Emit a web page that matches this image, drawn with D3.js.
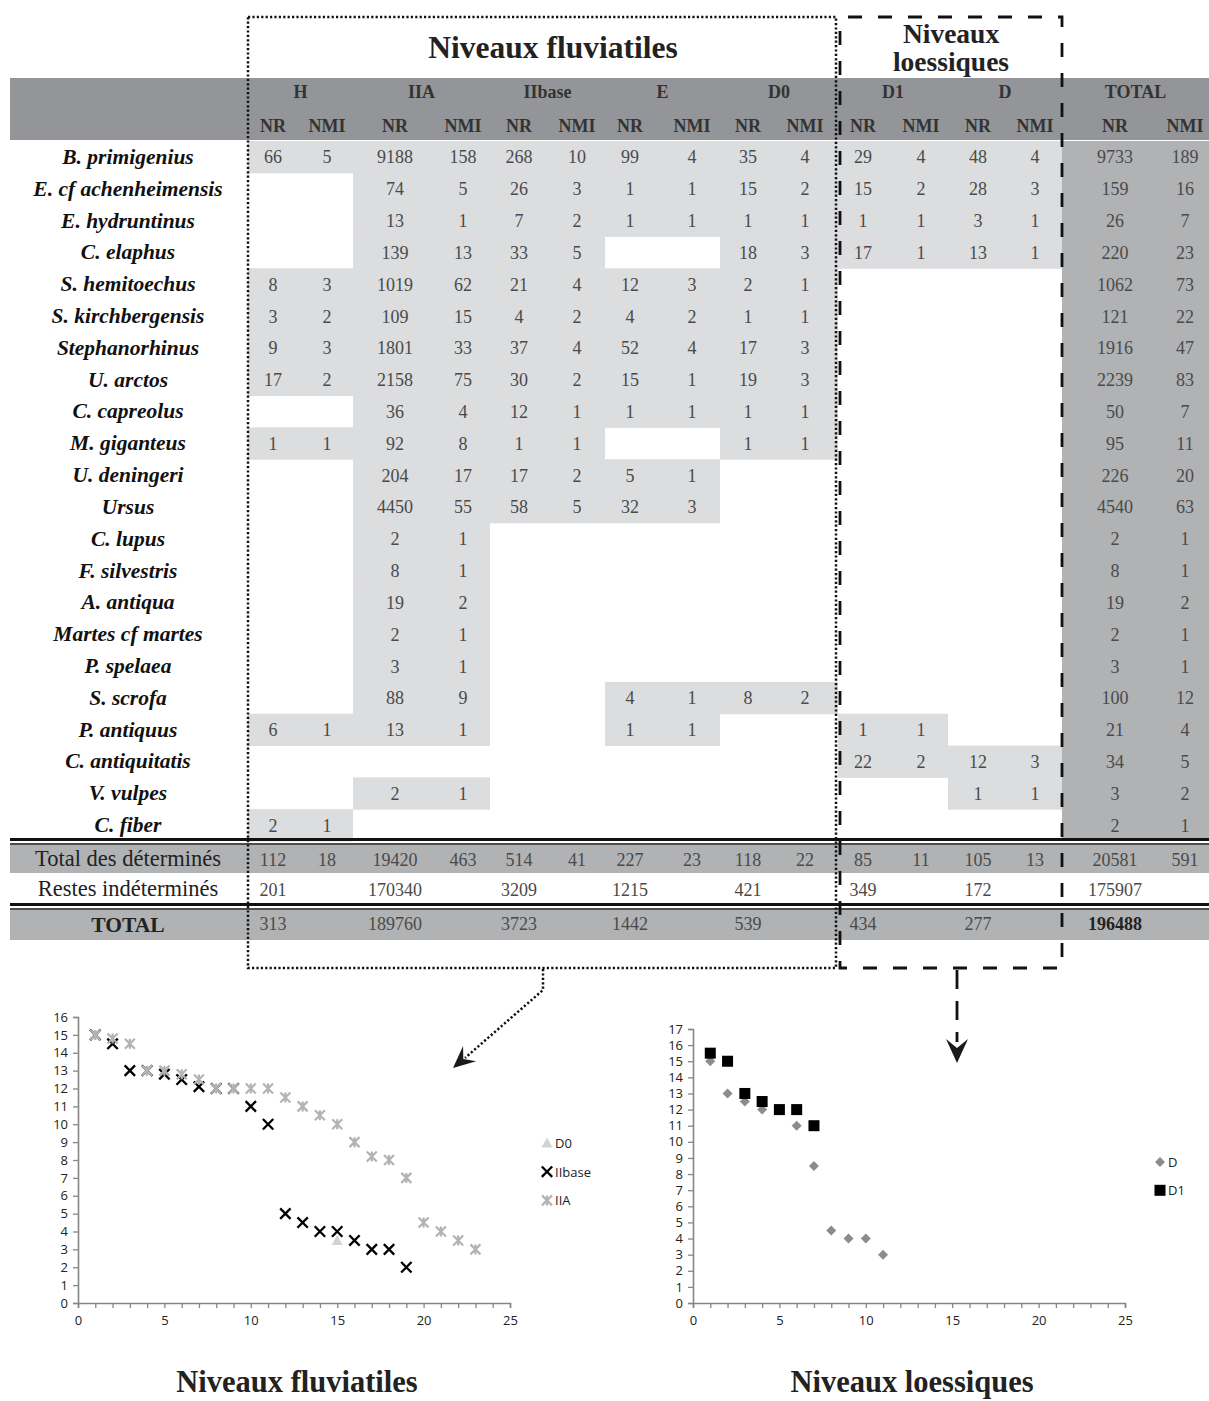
<!DOCTYPE html>
<html><head><meta charset="utf-8">
<script src="https://cdn.jsdelivr.net/npm/d3@7"></script>
<style>body{margin:0;background:#fff} svg{display:block}</style>
</head><body><svg id="c" width="1209" height="1401"></svg>
<script>
// ---------------- DATA ----------------
const species = ["B. primigenius","E. cf achenheimensis","E. hydruntinus","C. elaphus","S. hemitoechus","S. kirchbergensis","Stephanorhinus","U. arctos","C. capreolus","M. giganteus","U. deningeri","Ursus","C. lupus","F. silvestris","A. antiqua","Martes cf martes","P. spelaea","S. scrofa","P. antiquus","C. antiquitatis","V. vulpes","C. fiber"];
const levels = ["H","IIA","IIbase","E","D0","D1","D","TOTAL"];
const subHeads = ["NR","NMI"];
const lvH = [[66,5],null,null,null,[8,3],[3,2],[9,3],[17,2],null,[1,1],null,null,null,null,null,null,null,null,[6,1],null,null,[2,1]];
const lvIIA = [[9188,158],[74,5],[13,1],[139,13],[1019,62],[109,15],[1801,33],[2158,75],[36,4],[92,8],[204,17],[4450,55],[2,1],[8,1],[19,2],[2,1],[3,1],[88,9],[13,1],null,[2,1],null];
const lvIIbase = [[268,10],[26,3],[7,2],[33,5],[21,4],[4,2],[37,4],[30,2],[12,1],[1,1],[17,2],[58,5],null,null,null,null,null,null,null,null,null,null];
const lvE = [[99,4],[1,1],[1,1],null,[12,3],[4,2],[52,4],[15,1],[1,1],null,[5,1],[32,3],null,null,null,null,null,[4,1],[1,1],null,null,null];
const lvD0 = [[35,4],[15,2],[1,1],[18,3],[2,1],[1,1],[17,3],[19,3],[1,1],[1,1],null,null,null,null,null,null,null,[8,2],null,null,null,null];
const lvD1 = [[29,4],[15,2],[1,1],[17,1],null,null,null,null,null,null,null,null,null,null,null,null,null,null,[1,1],[22,2],null,null];
const lvD = [[48,4],[28,3],[3,1],[13,1],null,null,null,null,null,null,null,null,null,null,null,null,null,null,null,[12,3],[1,1],null];
const lvTOTAL = [[9733,189],[159,16],[26,7],[220,23],[1062,73],[121,22],[1916,47],[2239,83],[50,7],[95,11],[226,20],[4540,63],[2,1],[8,1],[19,2],[2,1],[3,1],[100,12],[21,4],[34,5],[3,2],[2,1]];
const detNR  = [112,19420,514,227,118,85,105,20581];
const detNMI = [18,463,41,23,22,11,13,591];
const indet  = [201,170340,3209,1215,421,349,172,175907];
const grandTotal = [313,189760,3723,1442,539,434,277,196488];
const summaryLabels = ["Total des déterminés","Restes indéterminés","TOTAL"];

// scatter data
const fluvD0 = [[15,3.5]];
const fluvIIbase = [[1,15],[2,14.5],[3,13],[4,13],[5,12.8],[6,12.5],[7,12.1],[8,12],[9,12],[10,11],[11,10],[12,5],[13,4.5],[14,4],[15,4],[16,3.5],[17,3],[18,3],[19,2]];
const fluvIIA = [[1,15],[2,14.8],[3,14.5],[4,13],[5,13],[6,12.8],[7,12.5],[8,12],[9,12],[10,12],[11,12],[12,11.5],[13,11],[14,10.5],[15,10],[16,9],[17,8.2],[18,8],[19,7],[20,4.5],[21,4],[22,3.5],[23,3]];
const loessD = [[1,15],[2,13],[3,12.5],[4,12],[6,11],[7,8.5],[8,4.5],[9,4],[10,4],[11,3]];
const loessD1 = [[1,15.5],[2,15],[3,13],[4,12.5],[5,12],[6,12],[7,11]];
const xTicks = [0,1,2,3,4,5,6,7,8,9,10,11,12,13,14,15,16,17,18,19,20,21,22,23,24,25];
const xLabelTicks = [0,5,10,15,20,25];
const fluvYTicks = [0,1,2,3,4,5,6,7,8,9,10,11,12,13,14,15,16];
const loessYTicks = [0,1,2,3,4,5,6,7,8,9,10,11,12,13,14,15,16,17];

// ---------------- LAYOUT ----------------
const svg = d3.select("#c");
const SERIF = "'Liberation Serif','Times New Roman',serif";
const SANS = "'Open Sans','Noto Sans',sans-serif";
const levelData = [lvH,lvIIA,lvIIbase,lvE,lvD0,lvD1,lvD,lvTOTAL];
const groupEdges = [248,353,490,605,720,838,948,1062,1209];
const colCenters = [[273,327],[395,463],[519,577],[630,692],[748,805],[863,921],[978,1035],[1115,1185]];
const labelX = 128;
const C_HEAD = "#939598", C_LIGHT = "#dcdddf", C_MID = "#b1b2b4";
const NUMC = "#4a4a4a";

const y = d3.scaleBand().domain(species).range([141, 841]);

// header band
svg.append("rect").attr("x",10).attr("y",78).attr("width",1199).attr("height",62).attr("fill",C_HEAD);
// TOTAL column background
svg.append("rect").attr("x",groupEdges[7]).attr("y",141).attr("width",groupEdges[8]-groupEdges[7]).attr("height",700).attr("fill",C_MID);

// light cells
levels.slice(0,7).forEach((lv,li)=>{
  levelData[li].forEach((v,si)=>{
    if(!v) return;
    svg.append("rect").attr("x",groupEdges[li]).attr("y",y(species[si]))
      .attr("width",groupEdges[li+1]-groupEdges[li]).attr("height",y.bandwidth()+0.5).attr("fill",C_LIGHT);
  });
});

// header texts
levels.forEach((lv,li)=>{
  const cx=(groupEdges[li]+groupEdges[li+1])/2;
  svg.append("text").attr("x",cx).attr("y",98).attr("text-anchor","middle")
    .attr("font-family",SERIF).attr("font-weight","bold").attr("font-size",18).attr("fill","#333").text(lv);
  subHeads.forEach((s,k)=>{
    svg.append("text").attr("x",colCenters[li][k]).attr("y",132).attr("text-anchor","middle")
      .attr("font-family",SERIF).attr("font-weight","bold").attr("font-size",18).attr("fill","#333").text(s);
  });
});

// species labels
species.forEach(s=>{
  svg.append("text").attr("x",labelX).attr("y",y(s)+y.bandwidth()/2+7).attr("text-anchor","middle")
    .attr("font-family",SERIF).attr("font-weight","bold").attr("font-style","italic").attr("font-size",21.5).attr("fill","#111").text(s);
});
// values
levelData.forEach((arr,li)=>{
  arr.forEach((v,si)=>{
    if(!v) return;
    v.forEach((n,k)=>{
      svg.append("text").attr("x",colCenters[li][k]).attr("y",y(species[si])+y.bandwidth()/2+6.5)
        .attr("text-anchor","middle").attr("font-family",SERIF).attr("font-size",18).attr("fill",NUMC).text(n);
    });
  });
});

// summary rows
const sumRows = [{y0:845,h:28,fill:C_MID},{y0:873,h:32,fill:"none"},{y0:910,h:30,fill:C_MID}];
sumRows.forEach((r,i)=>{
  if(r.fill!=="none") svg.append("rect").attr("x",10).attr("y",r.y0).attr("width",1199).attr("height",r.h).attr("fill",r.fill);
  svg.append("text").attr("x",labelX).attr("y",r.y0+r.h/2+7).attr("text-anchor","middle")
    .attr("font-family",SERIF).attr("font-size",i===2?21.5:22.5).attr("font-weight",i===2?"bold":"normal").attr("fill","#222").text(summaryLabels[i]);
});
levels.forEach((lv,li)=>{
  const tc = (txt,k,yy,bold)=>svg.append("text").attr("x",colCenters[li][k]).attr("y",yy).attr("text-anchor","middle")
    .attr("font-family",SERIF).attr("font-size",18).attr("font-weight",bold?"bold":"normal").attr("fill",bold?"#222":NUMC).text(txt);
  tc(detNR[li],0,865.5,false); tc(detNMI[li],1,865.5,false);
  tc(indet[li],0,896,false);
  tc(grandTotal[li],0,930,lv==="TOTAL");
});

// double lines
[[839.5,3],[844,1.5],[904.5,3],[909,1.5]].forEach(([yy,w])=>{
  svg.append("line").attr("x1",10).attr("x2",1209).attr("y1",yy).attr("y2",yy).attr("stroke","#111").attr("stroke-width",w);
});

// titles
svg.append("text").attr("x",553).attr("y",58).attr("text-anchor","middle").attr("font-family",SERIF)
  .attr("font-weight","bold").attr("font-size",31.5).attr("fill","#222").text("Niveaux fluviatiles");
svg.append("text").attr("x",951).attr("y",43).attr("text-anchor","middle").attr("font-family",SERIF)
  .attr("font-weight","bold").attr("font-size",27.5).attr("fill","#222").text("Niveaux");
svg.append("text").attr("x",951).attr("y",71).attr("text-anchor","middle").attr("font-family",SERIF)
  .attr("font-weight","bold").attr("font-size",27.5).attr("fill","#222").text("loessiques");

// dotted box
svg.append("path").attr("d","M248,17 L836,17 L836,968 L248,968 Z").attr("fill","none")
  .attr("stroke","#111").attr("stroke-width",2.5).attr("stroke-dasharray","2.2,2.2");
// dashed box
svg.append("path").attr("d","M848,17 L1062,17 L1062,968 L840,968 L840,17").attr("fill","none")
  .attr("stroke","#111").attr("stroke-width",2.8).attr("stroke-dasharray","14,16");

function arrowHead(tx,ty,ang,L,W){
  const pts=[[0,0],[-L,-W/2],[-L*0.62,0],[-L,W/2]];
  const c=Math.cos(ang), s=Math.sin(ang);
  return "M"+pts.map(([px,py])=>[tx+px*c-py*s, ty+px*s+py*c].join(",")).join("L")+"Z";
}
// dotted arrow
svg.append("path").attr("d","M543,969 L543,990 L465,1058").attr("fill","none")
  .attr("stroke","#111").attr("stroke-width",2.5).attr("stroke-dasharray","2.2,2.2");
svg.append("path").attr("d",arrowHead(453,1068,Math.atan2(78,-90),22,20)).attr("fill","#1a1a1a");
// dashed arrow
svg.append("path").attr("d","M957,970 L957,1042").attr("fill","none")
  .attr("stroke","#111").attr("stroke-width",2.8).attr("stroke-dasharray","19,12");
svg.append("path").attr("d",arrowHead(957,1063,Math.PI/2,24,22)).attr("fill","#1a1a1a");

// ---------------- SCATTER CHARTS ----------------
function drawAxes(x,yS,yTicks){
  const ax = svg.append("g").attr("transform",`translate(0,${yS(0)})`)
    .call(d3.axisBottom(x).tickValues(xTicks).tickSize(5).tickPadding(8)
      .tickFormat(d=>xLabelTicks.includes(d)?d:""));
  const ay = svg.append("g").attr("transform",`translate(${x(0)},0)`)
    .call(d3.axisLeft(yS).tickValues(yTicks).tickSize(5).tickPadding(5));
  [ax,ay].forEach(g=>{
    g.select(".domain").attr("stroke","#868686").attr("stroke-width",1.6);
    g.selectAll(".tick line").attr("stroke","#868686").attr("stroke-width",1.3);
    g.selectAll(".tick text").attr("font-family",SANS).attr("font-size",13).attr("fill","#222");
  });
}
const sym = {
  star:(g,cx,cy,col)=>{const r=5;g.append("path").attr("d",`M${cx-r},${cy-r}L${cx+r},${cy+r}M${cx-r},${cy+r}L${cx+r},${cy-r}M${cx},${cy-r}L${cx},${cy+r}`).attr("stroke",col).attr("stroke-width",2.2).attr("fill","none");},
  cross:(g,cx,cy,col)=>{const r=5.2;g.append("path").attr("d",`M${cx-r},${cy-r}L${cx+r},${cy+r}M${cx-r},${cy+r}L${cx+r},${cy-r}`).attr("stroke",col).attr("stroke-width",2.3).attr("fill","none");},
  tri:(g,cx,cy,col)=>{g.append("path").attr("d",`M${cx},${cy-5.5}L${cx+5.5},${cy+4.5}L${cx-5.5},${cy+4.5}Z`).attr("fill",col);},
  diamond:(g,cx,cy,col)=>{const r=5;g.append("path").attr("d",`M${cx},${cy-r}L${cx+r},${cy}L${cx},${cy+r}L${cx-r},${cy}Z`).attr("fill",col);},
  square:(g,cx,cy,col)=>{const r=5.5;g.append("rect").attr("x",cx-r).attr("y",cy-r).attr("width",2*r).attr("height",2*r).attr("fill",col);}
};
function drawSeries(x,yS,data,kind,col){
  const g=svg.append("g");
  data.forEach(([a,b])=>sym[kind](g,x(a),yS(b),col));
}
function legend(items,lx,ly0,dy){
  items.forEach((it,i)=>{
    const g=svg.append("g");
    sym[it.kind](g,lx,ly0+i*dy,it.col);
    svg.append("text").attr("x",lx+8).attr("y",ly0+i*dy+5).attr("font-family",SANS).attr("font-size",13).attr("fill","#222").text(it.name);
  });
}

// left chart
const xL = d3.scaleLinear().domain([0,25]).range([78,510]);
const yL = d3.scaleLinear().domain([0,16]).range([1303,1017]);
drawAxes(xL,yL,fluvYTicks);
drawSeries(xL,yL,fluvD0,"tri","#d2d3d5");
drawSeries(xL,yL,fluvIIbase,"cross","#000");
drawSeries(xL,yL,fluvIIA,"star","#b3b3b3");
legend([{name:"D0",kind:"tri",col:"#d2d3d5"},{name:"IIbase",kind:"cross",col:"#000"},{name:"IIA",kind:"star",col:"#b3b3b3"}],547,1143,28.7);

// right chart
const xR = d3.scaleLinear().domain([0,25]).range([693,1125]);
const yR = d3.scaleLinear().domain([0,17]).range([1303,1029]);
drawAxes(xR,yR,loessYTicks);
drawSeries(xR,yR,loessD,"diamond","#8c8c8c");
drawSeries(xR,yR,loessD1,"square","#000");
legend([{name:"D",kind:"diamond",col:"#8c8c8c"},{name:"D1",kind:"square",col:"#000"}],1160,1162,28.3);

// bottom titles
svg.append("text").attr("x",297).attr("y",1392).attr("text-anchor","middle").attr("font-family",SERIF)
  .attr("font-weight","bold").attr("font-size",30.5).attr("fill","#222").text("Niveaux fluviatiles");
svg.append("text").attr("x",912).attr("y",1392).attr("text-anchor","middle").attr("font-family",SERIF)
  .attr("font-weight","bold").attr("font-size",30.5).attr("fill","#222").text("Niveaux loessiques");
</script></body></html>
